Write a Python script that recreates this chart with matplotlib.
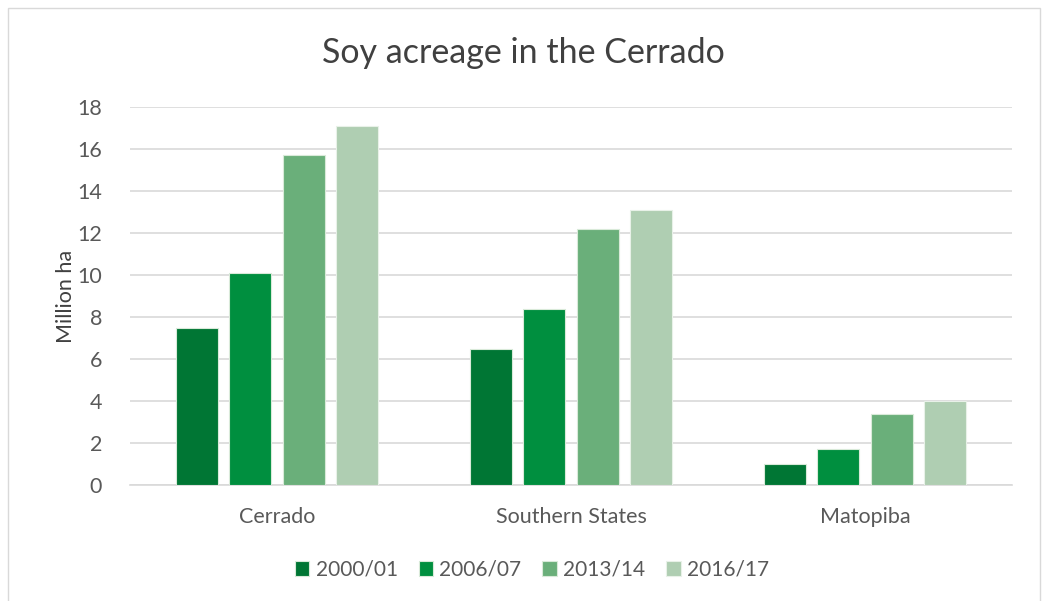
import matplotlib.pyplot as plt
import numpy as np
from matplotlib.patches import Rectangle

# data
regions = ["Cerrado", "Southern States", "Matopiba"]
seasons = ["2000/01", "2006/07", "2013/14", "2016/17"]
v_2000 = [7.5, 6.5, 1.0]
v_2006 = [10.1, 8.4, 1.7]
v_2013 = [15.7, 12.2, 3.4]
v_2016 = [17.1, 13.1, 4.0]
yticks = [0, 2, 4, 6, 8, 10, 12, 14, 16, 18]

colors = ["#007634", "#008F3F", "#6AAF7A", "#AFCEB2"]
edges = ["#d9ead9", "#d9ead9", "#d9ead9", "#e8f1e8"]

plt.rcParams['font.family'] = ['Lato', 'DejaVu Sans']

fig = plt.figure(figsize=(10.46, 6.01), dpi=100)
ax = fig.add_axes([130/1046, 1 - 485/601, 882/1046, 378/601])

# outer chart frame
fig.add_artist(Rectangle((8/1046, -0.05), 1032/1046, 1.05 - 8/601,
                         transform=fig.transFigure, fill=False,
                         edgecolor="#d9d9d9", linewidth=1))

x = np.arange(len(regions))
w = 0.143
step = 0.181
series = [v_2000, v_2006, v_2013, v_2016]
for i, vals in enumerate(series):
    off = (i - 1.5) * step
    ax.bar(x + off, vals, w, color=colors[i], edgecolor=edges[i],
           linewidth=0.8, label=seasons[i], zorder=3)

ax.set_xlim(-0.5, 2.5)
ax.set_ylim(0, 18)
ax.set_yticks(yticks)
ax.set_xticks(x)
ax.set_xticklabels(regions)
ax.grid(axis="y", color="#d9d9d9", linewidth=1.2, zorder=0)
for s in ["top", "right", "left"]:
    ax.spines[s].set_visible(False)
ax.spines["bottom"].set_color("#d9d9d9")
ax.spines["bottom"].set_linewidth(1.2)
ax.tick_params(axis="both", length=0, labelsize=15.5, labelcolor="#595959")
ax.tick_params(axis="x", pad=16)
ax.tick_params(axis="y", pad=20)

ax.set_ylabel("Million ha", fontsize=15.5, color="#404040", labelpad=1)
fig.text(0.5, 1 - 53/601, "Soy acreage in the Cerrado", ha="center", va="center",
         fontsize=24.5, color="#404040")

fig.legend(loc="center", bbox_to_anchor=(532/1046, 1 - 570/601), ncol=4,
           frameon=False, fontsize=15, labelcolor="#595959",
           handlelength=0.7, handleheight=0.7, handletextpad=0.3,
           columnspacing=1.0)

fig.savefig("out.png", dpi=100, facecolor="white")
